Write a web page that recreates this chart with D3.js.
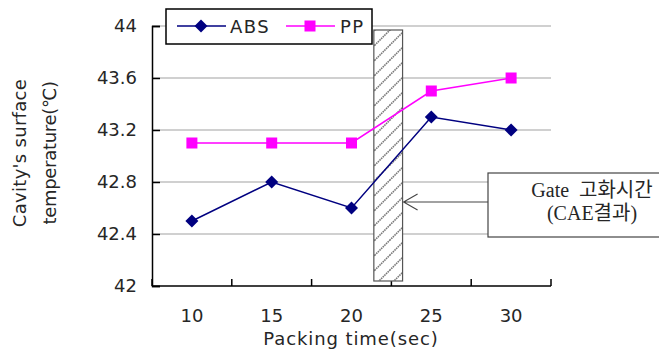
<!DOCTYPE html>
<html>
<head>
<meta charset="utf-8">
<script src="https://cdn.jsdelivr.net/npm/d3@7"></script>
<style>
  body { margin: 0; background: #fff; }
  text { font-family: "DejaVu Sans", "Liberation Sans", sans-serif; fill: #262626; }
  .serif { font-family: "Liberation Serif", "Noto Sans CJK KR", serif; white-space: pre; }
</style>
</head>
<body>
<div id="chart"></div>
<script>
var categories = ['10', '15', '20', '25', '30'];
var absValues = [42.5, 42.8, 42.6, 43.3, 43.2];
var ppValues = [43.1, 43.1, 43.1, 43.5, 43.6];
var yTicks = [42, 42.4, 42.8, 43.2, 43.6, 44];
// gate solidification time window (sec)
var gateRange = [21.4, 23.2];

var W = 659, H = 361;
var plotLeft = 152, plotRight = 551, plotTop = 26, plotBottom = 286;

var svg = d3.select('#chart').append('svg')
  .attr('width', W)
  .attr('height', H);

var x = d3.scaleBand().domain(categories).range([plotLeft, plotRight]);
var y = d3.scaleLinear().domain([42, 44]).range([plotBottom, plotTop]);
// continuous time scale matching the band centres
var xt = d3.scaleLinear()
  .domain([+categories[0], +categories[categories.length - 1]])
  .range([x(categories[0]) + x.bandwidth() / 2,
          x(categories[categories.length - 1]) + x.bandwidth() / 2]);

// hatch pattern for the gate band
var defs = svg.append('defs');
var pat = defs.append('pattern')
  .attr('id', 'hatch')
  .attr('patternUnits', 'userSpaceOnUse')
  .attr('width', 15).attr('height', 15);
pat.append('rect').attr('width', 15).attr('height', 15).attr('fill', '#fff');
pat.append('path')
  .attr('d', 'M-2,17 L17,-2 M-2,2 L2,-2 M13,17 L17,13')
  .attr('stroke', '#777')
  .attr('stroke-width', 1.6)
  .attr('stroke-dasharray', '1.5,0.8');

// gridlines
svg.append('g').selectAll('line')
  .data(yTicks.slice(1)).enter()
  .append('line')
  .attr('x1', plotLeft).attr('x2', plotRight)
  .attr('y1', function(d) { return y(d); })
  .attr('y2', function(d) { return y(d); })
  .attr('stroke', '#c0c0c0')
  .attr('stroke-width', 1.3);

// y axis (ticks inside)
var yaxis = d3.axisRight(y).tickValues(yTicks).tickSize(8).tickFormat('');
var gy = svg.append('g')
  .attr('transform', 'translate(' + plotLeft + ',0)')
  .call(yaxis);
gy.select('.domain').attr('stroke', '#000').attr('stroke-width', 1.5);
gy.selectAll('.tick line').attr('stroke', '#000').attr('stroke-width', 1.5);

svg.append('g').selectAll('text')
  .data(yTicks).enter()
  .append('text')
  .attr('x', 137)
  .attr('y', function(d) { return y(d); })
  .attr('dy', '0.36em')
  .attr('text-anchor', 'end')
  .attr('font-size', 18)
  .text(function(d) { return d3.format('')(d); });

// x axis (ticks inside, at band edges)
var xEdges = d3.range(categories.length + 1).map(function(i) {
  return plotLeft + i * x.step();
});
svg.append('line')
  .attr('x1', plotLeft).attr('x2', plotRight)
  .attr('y1', plotBottom).attr('y2', plotBottom)
  .attr('stroke', '#000').attr('stroke-width', 1.5);
svg.append('g').selectAll('line')
  .data(xEdges).enter()
  .append('line')
  .attr('x1', function(d) { return d; })
  .attr('x2', function(d) { return d; })
  .attr('y1', plotBottom).attr('y2', plotBottom - 7)
  .attr('stroke', '#000').attr('stroke-width', 1.5);

svg.append('g').selectAll('text')
  .data(categories).enter()
  .append('text')
  .attr('x', function(d) { return x(d) + x.bandwidth() / 2; })
  .attr('y', 322)
  .attr('text-anchor', 'middle')
  .attr('font-size', 18)
  .text(function(d) { return d; });

svg.append('text')
  .attr('x', 351).attr('y', 345)
  .attr('text-anchor', 'middle')
  .attr('font-size', 18)
  .attr('letter-spacing', 0.9)
  .text('Packing time(sec)');

var yt = svg.append('text')
  .attr('transform', 'translate(0,153) rotate(-90)')
  .attr('text-anchor', 'middle')
  .attr('font-size', 18)
  .attr('letter-spacing', 0.3);
yt.append('tspan').attr('x', 0).attr('y', 26).text("Cavity's surface");
yt.append('tspan').attr('x', 0).attr('y', 56).attr('letter-spacing', -0.3).text('temperature(\u2103)');

// gate band
svg.append('rect')
  .attr('x', xt(gateRange[0]))
  .attr('y', 30)
  .attr('width', xt(gateRange[1]) - xt(gateRange[0]))
  .attr('height', 251)
  .attr('fill', 'url(#hatch)')
  .attr('stroke', '#555')
  .attr('stroke-width', 1.2);

// lines
var line = d3.line()
  .x(function(d, i) { return x(categories[i]) + x.bandwidth() / 2; })
  .y(function(d) { return y(d); });

var series = [
  {name: 'ABS', values: absValues, color: '#000080'},
  {name: 'PP', values: ppValues, color: '#ff00ff'}
];

series.forEach(function(s) {
  svg.append('path')
    .attr('d', line(s.values))
    .attr('fill', 'none')
    .attr('stroke', s.color)
    .attr('stroke-width', 1.5);
});

var marker = function(g, s, cx, cy) {
  if (s.name === 'ABS') {
    g.append('path')
      .attr('d', 'M' + cx + ',' + (cy - 6.5) + 'L' + (cx + 6.5) + ',' + cy +
        'L' + cx + ',' + (cy + 6.5) + 'L' + (cx - 6.5) + ',' + cy + 'Z')
      .attr('fill', s.color);
  } else {
    g.append('rect')
      .attr('x', cx - 5.5).attr('y', cy - 5.5)
      .attr('width', 11).attr('height', 11)
      .attr('fill', s.color);
  }
};

series.forEach(function(s) {
  var g = svg.append('g');
  s.values.forEach(function(v, i) {
    marker(g, s, x(categories[i]) + x.bandwidth() / 2, y(v));
  });
});

// legend
var lg = svg.append('g');
lg.append('rect')
  .attr('x', 166).attr('y', 9)
  .attr('width', 206).attr('height', 35)
  .attr('fill', '#fff')
  .attr('stroke', '#000')
  .attr('stroke-width', 1.5);
[{s: series[0], x0: 177, tx: 230}, {s: series[1], x0: 286, tx: 340}].forEach(function(l) {
  lg.append('line')
    .attr('x1', l.x0).attr('x2', l.x0 + 49)
    .attr('y1', 26).attr('y2', 26)
    .attr('stroke', l.s.color).attr('stroke-width', 1.5);
  marker(lg, l.s, l.x0 + 24, 26);
  lg.append('text')
    .attr('x', l.tx).attr('y', 33)
    .attr('font-size', 18)
    .attr('letter-spacing', 1.5)
    .text(l.s.name);
});

// annotation
var arrowTip = xt(gateRange[1]) + 1;
svg.append('rect')
  .attr('x', 488).attr('y', 173)
  .attr('width', 200).attr('height', 64)
  .attr('fill', '#fff')
  .attr('stroke', '#444')
  .attr('stroke-width', 1.2);
svg.append('path')
  .attr('d', 'M488,202 L' + arrowTip + ',202 M' + (arrowTip + 14) + ',194 L' +
    arrowTip + ',202 L' + (arrowTip + 14) + ',210')
  .attr('fill', 'none')
  .attr('stroke', '#444')
  .attr('stroke-width', 1.1);
var at = svg.append('text')
  .attr('class', 'serif')
  .attr('text-anchor', 'middle')
  .attr('font-size', 20);
at.append('tspan').attr('x', 592).attr('y', 197).text('Gate  고화시간');
at.append('tspan').attr('x', 592).attr('y', 220).text('(CAE결과)');
</script>
</body>
</html>
